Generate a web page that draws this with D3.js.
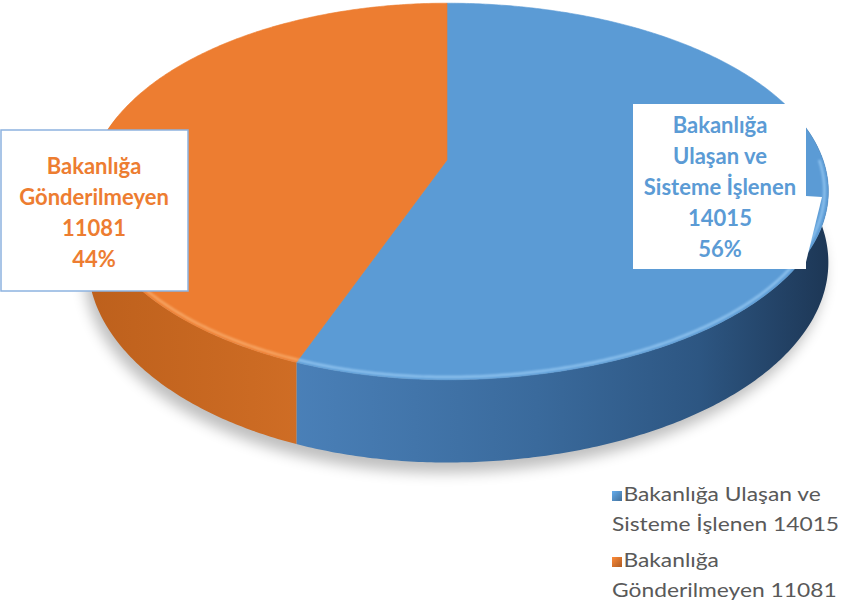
<!DOCTYPE html>
<html lang="tr">
<head>
<meta charset="UTF-8">
<script src="https://d3js.org/d3.v7.min.js"></script>
<title>Pie 3D</title>
<style>
  body { margin: 0; background: #fff; overflow: hidden; }
  svg { display: block; }
</style>
</head>
<body>
<script>
  // data
  const labels = ["Bakanlığa Ulaşan ve Sisteme İşlenen", "Bakanlığa Gönderilmeyen"];
  const values = [14015, 11081];
  const colors = ["#5B9BD5", "#ED7D31"];
  const boxLines = [["Bakanlığa", "Ulaşan ve", "Sisteme İşlenen"], ["Bakanlığa", "Gönderilmeyen"]];
  const legendLines = [["Bakanlığa Ulaşan ve", "Sisteme İşlenen"], ["Bakanlığa", "Gönderilmeyen"]];

  const width = 849, height = 613;
  const svg = d3.select("body").append("svg")
    .attr("width", width)
    .attr("height", height);

  const defs = svg.append("defs");
  defs.append("filter").attr("id", "shadow").attr("x", "-20%").attr("y", "-20%").attr("width", "140%").attr("height", "140%")
    .append("feGaussianBlur").attr("stdDeviation", 7);
  defs.append("filter").attr("id", "soft")
    .append("feGaussianBlur").attr("stdDeviation", 1.3);

  // side gradients (darker toward the right)
  const sideStops = [
    [["0%", "#4a80b8"], ["45%", "#3a6a9c"], ["75%", "#2d5682"], ["100%", "#1c3553"]],
    [["0%", "#bd601c"], ["100%", "#cf6d25"]]
  ];
  const sideRange = [[293, 835], [85, 300]];
  sideStops.forEach((stops, i) => {
    const g = defs.append("linearGradient").attr("id", "side" + i)
      .attr("gradientUnits", "userSpaceOnUse")
      .attr("x1", sideRange[i][0]).attr("x2", sideRange[i][1]).attr("y1", 0).attr("y2", 0);
    stops.forEach(s => g.append("stop").attr("offset", s[0]).attr("stop-color", s[1]));
  });

  // perspective projection of the pie disk
  const cx = 447, cy = 160, k = 0.167, ry = 183, rxL = 354, rxR = 376, depth = 69;
  function proj(a, r = 1, drop = 0) {
    const X = r * Math.sin(a), Y = -r * Math.cos(a);
    const w = 1 - k * Y;
    return [cx + (X < 0 ? rxL : rxR) * X / w, cy + (ry * Y + drop) / w];
  }
  function arcPts(a0, a1, r, drop) {
    const n = Math.max(2, Math.ceil((a1 - a0) / 0.01));
    return d3.range(n + 1).map(i => proj(a0 + (a1 - a0) * i / n, r, drop));
  }
  const line = d3.line();

  const total = d3.sum(values);
  const arcs = d3.pie().sort(null).value(d => d)(values);

  // shadow under pie
  svg.append("path")
    .attr("d", line(arcPts(0, 2 * Math.PI, 1.0, depth + 6)) + "Z")
    .attr("transform", "translate(-4,3)")
    .attr("fill", "#000")
    .attr("opacity", 0.25)
    .attr("filter", "url(#shadow)");

  // sides
  const lo = 0.42 * Math.PI, hi = 1.58 * Math.PI;
  arcs.forEach((d, i) => {
    const a0 = Math.max(d.startAngle, lo), a1 = Math.min(d.endAngle, hi);
    if (a1 <= a0) return;
    const pts = arcPts(a0, a1, 1, 0).concat(arcPts(a0, a1, 1, depth).reverse());
    svg.append("path")
      .attr("d", line(pts) + "Z")
      .attr("fill", `url(#side${i})`);
  });

  // top faces
  arcs.forEach((d, i) => {
    const pts = [proj(0, 0, 0)].concat(arcPts(d.startAngle, d.endAngle, 1, 0));
    svg.append("path")
      .attr("d", line(pts) + "Z")
      .attr("fill", colors[i])
      .attr("stroke", colors[i])
      .attr("stroke-width", 0.6);
  });

  // bevel highlight on the front rim
  const hiColors = ["#8fc3ef", "#f7a766"];
  arcs.forEach((d, i) => {
    const a0 = Math.max(d.startAngle, 0.5 * Math.PI), a1 = Math.min(d.endAngle, 1.5 * Math.PI);
    if (a1 <= a0) return;
    svg.append("path")
      .attr("d", line(arcPts(a0, a1, 0.99, 0)))
      .attr("fill", "none")
      .attr("stroke", hiColors[i])
      .attr("stroke-width", 2.5)
      .attr("filter", "url(#soft)");
  });

  // data label boxes
  const boxes = [
    { x: 633, y: 104, w: 173, h: 165, tx: 720, ty: 133, pointer: [[806, 196], [822, 197], [806, 262]] },
    { x: 1, y: 130, w: 187, h: 161, tx: 94, ty: 174, pointer: null }
  ];
  const fontFamily = "Lato, 'Open Sans', sans-serif";
  arcs.forEach((d, i) => {
    const b = boxes[i];
    const g = svg.append("g");
    g.append("rect")
      .attr("x", b.x).attr("y", b.y).attr("width", b.w).attr("height", b.h)
      .attr("fill", "#fff")
      .attr("stroke", i === 1 ? "#8db3e0" : "none")
      .attr("stroke-width", 1.5);
    if (b.pointer) {
      g.append("path").attr("d", line(b.pointer) + "Z").attr("fill", "#fff");
    }
    const pct = Math.round(values[i] / total * 100) + "%";
    const txt = boxLines[i].concat([String(values[i]), pct]);
    g.selectAll("text").data(txt).enter().append("text")
      .attr("x", b.tx)
      .attr("y", (t, j) => b.ty + j * 31)
      .attr("text-anchor", "middle")
      .attr("font-family", fontFamily)
      .attr("font-weight", "bold")
      .attr("font-size", 22)
      .attr("fill", colors[i])
      .text(t => t);
  });

  // legend
  const legendTop = [491, 557];
  arcs.forEach((d, i) => {
    const g = svg.append("g");
    const grad = defs.append("linearGradient").attr("id", "leg" + i)
      .attr("x1", 0).attr("x2", 1).attr("y1", 0).attr("y2", 1);
    grad.append("stop").attr("offset", "0%").attr("stop-color", d3.color(colors[i]).brighter(0.3));
    grad.append("stop").attr("offset", "100%").attr("stop-color", d3.color(colors[i]).darker(0.9));
    g.append("rect")
      .attr("x", 612).attr("y", legendTop[i]).attr("width", 10).attr("height", 10)
      .attr("fill", `url(#leg${i})`);
    const lines = legendLines[i].slice();
    lines[lines.length - 1] += " " + values[i];
    g.append("g")
      .attr("transform", "translate(612,0) scale(1.14,1) translate(-612,0)")
      .selectAll("text").data(lines).enter().append("text")
      .attr("x", (t, j) => j === 0 ? 622 : 612)
      .attr("y", (t, j) => legendTop[i] + 10 + j * 30)
      .attr("font-family", fontFamily)
      .attr("font-size", 20)
      .attr("fill", "#595959")
      .text(t => t);
  });
</script>
</body>
</html>
